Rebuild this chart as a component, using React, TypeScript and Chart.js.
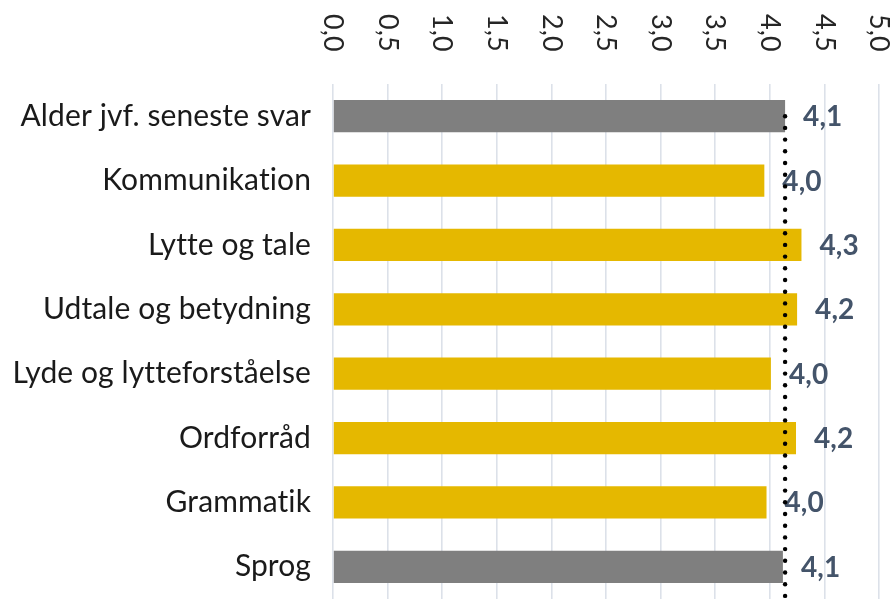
import React, { useEffect, useRef } from 'react';
import { Chart, registerables } from 'chart.js';

Chart.register(...registerables);

const CATEGORIES = [
  'Alder jvf. seneste svar',
  'Kommunikation',
  'Lytte og tale',
  'Udtale og betydning',
  'Lyde og lytteforståelse',
  'Ordforråd',
  'Grammatik',
  'Sprog',
];
const VALUES = [4.14, 3.95, 4.29, 4.25, 4.01, 4.24, 3.97, 4.12];
const VALUE_LABELS = ['4,1', '4,0', '4,3', '4,2', '4,0', '4,2', '4,0', '4,1'];
const GRAY_CATEGORIES = ['Alder jvf. seneste svar', 'Sprog'];
const X_TICKS = [0, 0.5, 1, 1.5, 2, 2.5, 3, 3.5, 4, 4.5, 5];
const X_TICK_LABELS = ['0,0', '0,5', '1,0', '1,5', '2,0', '2,5', '3,0', '3,5', '4,0', '4,5', '5,0'];
const REFERENCE_VALUE = 4.14;

const FONT = 'Lato';
const GOLD = '#E5B800';
const GRAY = '#7F7F7F';

const noLigaturePlugin = {
  id: 'noLigature',
  beforeDraw(chart: any) {
    // a tiny non-zero letter spacing turns off the tt / ti ligatures
    (chart.ctx as any).letterSpacing = '0.1px';
  },
};

const overlayPlugin = {
  id: 'overlay',
  afterDatasetsDraw(chart: any) {
    const { ctx, scales } = chart;
    const xs = scales.x;
    const ys = scales.y;
    ctx.save();

    // value labels
    const meta = chart.getDatasetMeta(0);
    ctx.font = `bold 28px ${FONT}`;
    ctx.fillStyle = '#44546A';
    ctx.textAlign = 'left';
    ctx.textBaseline = 'middle';
    meta.data.forEach((bar: any, i: number) => {
      ctx.fillText(VALUE_LABELS[i], bar.x + 18, bar.y + 1);
    });

    // dotted reference line
    const px = xs.getPixelForValue(REFERENCE_VALUE);
    const top = ys.getPixelForValue(0);
    ctx.fillStyle = '#000000';
    for (let yy = top; yy <= chart.height + 4; yy += 11.7) {
      ctx.beginPath();
      ctx.arc(px, yy, 2.2, 0, Math.PI * 2);
      ctx.fill();
    }

    // rotated x tick labels
    ctx.font = `27px ${FONT}`;
    ctx.fillStyle = '#262626';
    ctx.textAlign = 'left';
    ctx.textBaseline = 'middle';
    X_TICKS.forEach((v, i) => {
      const x = xs.getPixelForValue(v);
      ctx.save();
      ctx.translate(x, 14);
      ctx.rotate(Math.PI / 2);
      ctx.fillText(X_TICK_LABELS[i], 0, 0);
      ctx.restore();
    });

    ctx.restore();
  },
};

export default function App() {
  const canvasRef = useRef<HTMLCanvasElement | null>(null);

  useEffect(() => {
    if (!canvasRef.current) return;
    const colors = CATEGORIES.map((c) => (GRAY_CATEGORIES.includes(c) ? GRAY : GOLD));
    const chart = new Chart(canvasRef.current, {
      type: 'bar',
      data: {
        labels: CATEGORIES,
        datasets: [
          {
            data: VALUES,
            backgroundColor: colors,
            borderWidth: 0,
            barPercentage: 0.5,
            categoryPercentage: 1,
          },
        ],
      },
      options: {
        indexAxis: 'y',
        responsive: false,
        animation: false,
        maintainAspectRatio: false,
        layout: { padding: { top: 84, right: 14, left: 0, bottom: 0 } },
        plugins: {
          legend: { display: false },
          tooltip: { enabled: false },
        },
        scales: {
          x: {
            type: 'linear',
            position: 'top',
            min: 0,
            max: 5,
            afterBuildTicks: (scale: any) => {
              scale.ticks = X_TICKS.map((v) => ({ value: v }));
            },
            ticks: { display: false },
            grid: { color: '#DCE1E9', lineWidth: 1.6, drawTicks: false },
            border: { display: false },
          },
          y: {
            type: 'category',
            afterFit: (scale: any) => {
              scale.width = 333;
              scale.paddingTop = 0;
              scale.paddingBottom = 0;
            },
            ticks: {
              padding: 22,
              color: '#1a1a1a',
              font: { family: FONT, size: 30 },
            },
            grid: { display: false, drawTicks: false },
            border: { display: false },
          },
        },
      },
      plugins: [noLigaturePlugin, overlayPlugin],
    });
    return () => chart.destroy();
  }, []);

  return (
    <div style={{ position: 'fixed', left: 0, top: 0, width: 893, height: 599, background: '#fff' }}>
      <canvas ref={canvasRef} width={893} height={599} style={{ display: 'block' }} />
    </div>
  );
}
